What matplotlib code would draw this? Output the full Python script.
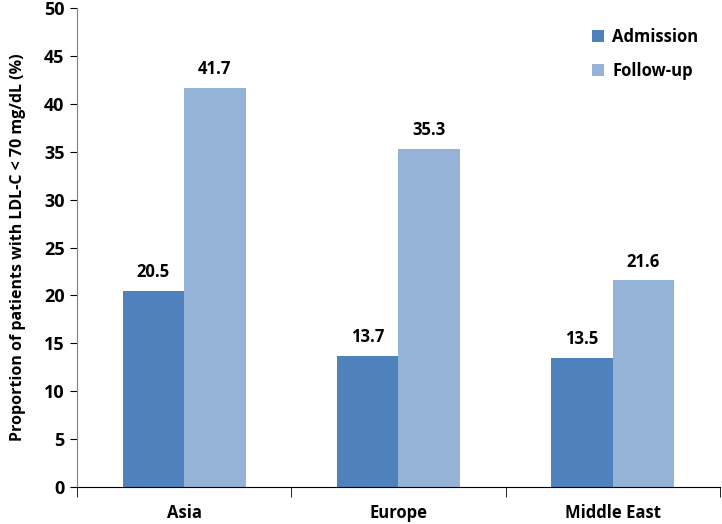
import matplotlib
matplotlib.use("Agg")

import matplotlib.pyplot as plt
import numpy as np

# Data
regions = ["Asia", "Europe", "Middle East"]
admission = [20.5, 13.7, 13.5]
follow_up = [41.7, 35.3, 21.6]
series_names = ["Admission", "Follow-up"]

plt.rcParams["font.family"] = ["Open Sans", "DejaVu Sans"]
plt.rcParams["font.weight"] = "bold"

FS = 11.5

fig = plt.figure(figsize=(7.22, 5.24), dpi=100)
ax = fig.add_axes([0.1066, 0.0706, 0.8904, 0.9141])

x = np.arange(len(regions))
w = 0.287
dark = "#4F81BD"
light = "#95B3D7"

b1 = ax.bar(x - w / 2, admission, w, color=dark, label=series_names[0])
b2 = ax.bar(x + w / 2, follow_up, w, color=light, label=series_names[1])

for bars, vals in ((b1, admission), (b2, follow_up)):
    for rect, v in zip(bars, vals):
        ax.text(rect.get_x() + rect.get_width() / 2, v + 1.0, f"{v:.1f}",
                ha="center", va="bottom", fontsize=12, fontweight="bold")

ax.set_xlim(-0.5, len(regions) - 0.5)
ax.set_ylim(0, 50)
ax.set_yticks(np.arange(0, 51, 5))
ax.tick_params(axis="y", labelsize=13, length=5, direction="out", pad=4)

# category labels centred, ticks on the category boundaries
ax.set_xticks(x)
ax.set_xticklabels(regions, fontsize=12, fontweight="bold")
ax.tick_params(axis="x", length=0, pad=12)
ax.set_xticks(np.arange(-0.5, len(regions), 1.0), minor=True)
ax.tick_params(axis="x", which="minor", length=7, direction="out")

ax.spines["top"].set_visible(False)
ax.spines["right"].set_visible(False)
ax.spines["left"].set_color("#7f7f7f")
ax.spines["bottom"].set_color("black")

ax.set_ylabel("Proportion of patients with LDL-C < 70 mg/dL (%)",
              fontsize=FS, fontweight="bold", labelpad=13)

leg = ax.legend(loc="upper right", bbox_to_anchor=(0.99, 0.99), frameon=False,
                fontsize=12, handlelength=0.7, handleheight=0.7,
                labelspacing=0.95, handletextpad=0.5)

plt.savefig("out.png", dpi=100)
